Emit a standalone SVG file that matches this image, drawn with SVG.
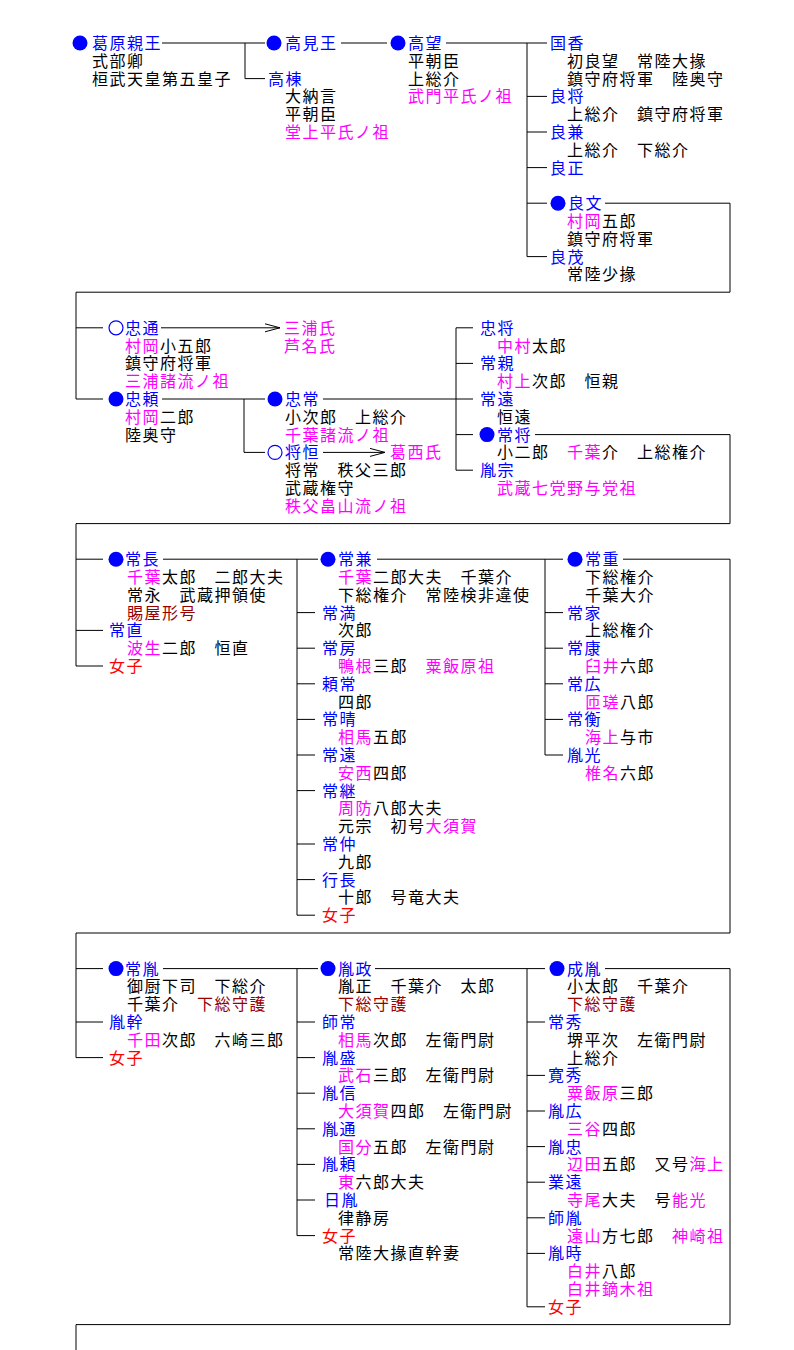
<svg xmlns="http://www.w3.org/2000/svg" width="794" height="1350" viewBox="0 0 794 1350">
<style>
text { font-family: "Liberation Sans", "Noto Sans CJK JP", "Noto Sans CJK SC", sans-serif; font-size: 16px; letter-spacing: 1.5px; fill: #000000; }
.n { fill: #0000ff; }
.m { fill: #ff00ff; }
.r { fill: #ff0000; }
.d { fill: #990000; }
.c { stroke: #000000; stroke-width: 1; fill: none; }
.dot { fill: #0000ff; }
.ring { fill: none; stroke: #0000ff; stroke-width: 1.2; }
</style>
<defs>
<marker id="arr" markerUnits="userSpaceOnUse" markerWidth="16" markerHeight="10" viewBox="0 0 16 10" refX="15" refY="5" orient="auto">
<path d="M0,1 L15,5 L0,9" fill="none" stroke="#000000" stroke-width="1"/>
</marker>
</defs>
<rect width="794" height="1350" fill="#ffffff"/>

<g id="connectors">
<path class="c" d="M162,43 H265 M245,43 V78.6 H265 M341,43 H387 M446,43 H547 M527,43 V256.6 M527,96.4 H547 M527,132 H547 M527,167.6 H547 M527,203.2 H547 M527,256.6 H547"/>
<path class="c" d="M605,203.2 H730 V292.2 H76 V399 M76,327.8 H103 M76,399 H103"/>
<path class="c" d="M161,327.8 H280" marker-end="url(#arr)"/>
<path class="c" d="M162,399 H265 M244,399 V452.4 H265 M323,399 H456"/>
<path class="c" d="M323,452.4 H385" marker-end="url(#arr)"/>
<path class="c" d="M456,327.8 V470.2 M456,327.8 H473 M456,363.4 H473 M456,399 H473 M456,434.6 H473 M456,470.2 H473"/>
<path class="c" d="M535,434.6 H730 V523.6 H76 V666 M76,559.2 H103 M76,630.4 H103 M76,666 H103"/>
<path class="c" d="M163,559.2 H318 M297,559.2 V915.2 M297,612.6 H315 M297,648.2 H315 M297,683.8 H315 M297,719.4 H315 M297,755 H315 M297,790.6 H315 M297,844 H315 M297,879.6 H315 M297,915.2 H315"/>
<path class="c" d="M377,559.2 H563 M545,559.2 V755 M545,612.6 H563 M545,648.2 H563 M545,683.8 H563 M545,719.4 H563 M545,755 H563"/>
<path class="c" d="M623,559.2 H730 V933 H76 V1057.6 M76,968.6 H103 M76,1022 H103 M76,1057.6 H103"/>
<path class="c" d="M163,968.6 H318 M297,968.6 V1235.6 M297,1022 H315 M297,1057.6 H315 M297,1093.2 H315 M297,1128.8 H315 M297,1164.4 H315 M297,1200 H315 M297,1235.6 H315"/>
<path class="c" d="M375,968.6 H545 M527,968.6 V1306.8 M527,1022 H545 M527,1075.4 H545 M527,1111 H545 M527,1146.6 H545 M527,1182.2 H545 M527,1217.8 H545 M527,1253.4 H545 M527,1306.8 H545"/>
<path class="c" d="M605,968.6 H730 V1324.6 H76 V1350"/>
</g>

<!-- Section 1 -->
<g id="kazurahara">
<circle class="dot" cx="80" cy="43" r="7.5"/>
<text class="n" x="92" y="49">葛原親王</text>
<text x="92" y="66.8">式部卿</text>
<text x="92" y="84.6">桓武天皇第五皇子</text>
</g>
<g id="takami">
<circle class="dot" cx="274" cy="43" r="7.5"/>
<text class="n" x="285" y="49">高見王</text>
</g>
<g id="takamune">
<text class="n" x="268" y="84.6">高棟</text>
<text x="285" y="102.4">大納言</text>
<text x="285" y="120.2">平朝臣</text>
<text class="m" x="285" y="138">堂上平氏ノ祖</text>
</g>
<g id="takamochi">
<circle class="dot" cx="398" cy="43" r="7.5"/>
<text class="n" x="408" y="49">高望</text>
<text x="408" y="66.8">平朝臣</text>
<text x="408" y="84.6">上総介</text>
<text class="m" x="408" y="102.4">武門平氏ノ祖</text>
</g>
<g id="kunika">
<text class="n" x="550" y="49">国香</text>
<text x="567" y="66.8">初良望　常陸大掾</text>
<text x="567" y="84.6">鎮守府将軍　陸奥守</text>
</g>
<g id="yoshimasa">
<text class="n" x="550" y="102.4">良将</text>
<text x="567" y="120.2">上総介　鎮守府将軍</text>
</g>
<g id="yoshikane">
<text class="n" x="550" y="138">良兼</text>
<text x="567" y="155.8">上総介　下総介</text>
</g>
<g id="yoshimasa2">
<text class="n" x="550" y="173.6">良正</text>
</g>
<g id="yoshifumi">
<circle class="dot" cx="558" cy="203.2" r="7.5"/>
<text class="n" x="568" y="209.2">良文</text>
<text class="m" x="567" y="227">村岡</text><text x="602" y="227">五郎</text>
<text x="567" y="244.8">鎮守府将軍</text>
</g>
<g id="yoshishige">
<text class="n" x="550" y="262.6">良茂</text>
<text x="567" y="280.4">常陸少掾</text>
</g>

<!-- Section 2 -->
<g id="tadamichi">
<circle class="ring" cx="116" cy="327.8" r="7"/>
<text class="n" x="125" y="333.8">忠通</text>
<text class="m" x="125" y="351.6">村岡</text><text x="160" y="351.6">小五郎</text>
<text x="125" y="369.4">鎮守府将軍</text>
<text class="m" x="125" y="387.2">三浦諸流ノ祖</text>
</g>
<g id="miura">
<text class="m" x="284" y="333.8">三浦氏</text>
<text class="m" x="284" y="351.6">芦名氏</text>
</g>
<g id="tadayori">
<circle class="dot" cx="116" cy="399" r="7.5"/>
<text class="n" x="125" y="405">忠頼</text>
<text class="m" x="125" y="422.8">村岡</text><text x="160" y="422.8">二郎</text>
<text x="125" y="440.6">陸奥守</text>
</g>
<g id="tadatsune">
<circle class="dot" cx="275" cy="399" r="7.5"/>
<text class="n" x="285" y="405">忠常</text>
<text x="285" y="422.8">小次郎　上総介</text>
<text class="m" x="285" y="440.6">千葉諸流ノ祖</text>
</g>
<g id="masatsune">
<circle class="ring" cx="275" cy="452.4" r="7"/>
<text class="n" x="285" y="458.4">将恒</text>
<text x="285" y="476.2">将常　秩父三郎</text>
<text x="285" y="494">武蔵権守</text>
<text class="m" x="285" y="511.8">秩父畠山流ノ祖</text>
</g>
<g id="kasai">
<text class="m" x="390" y="458.4">葛西氏</text>
</g>
<g id="tadamasa">
<text class="n" x="480" y="333.8">忠将</text>
<text class="m" x="497" y="351.6">中村</text><text x="532" y="351.6">太郎</text>
</g>
<g id="tsunechika">
<text class="n" x="480" y="369.4">常親</text>
<text class="m" x="497" y="387.2">村上</text><text x="532" y="387.2">次郎　恒親</text>
</g>
<g id="tsunetoo">
<text class="n" x="480" y="405">常遠</text>
<text x="497" y="422.8">恒遠</text>
</g>
<g id="tsunemasa">
<circle class="dot" cx="487" cy="434.6" r="7.5"/>
<text class="n" x="497" y="440.6">常将</text>
<text x="497" y="458.4">小二郎</text><text class="m" x="567" y="458.4">千葉</text><text x="602" y="458.4">介　上総権介</text>
</g>
<g id="tanemune">
<text class="n" x="480" y="476.2">胤宗</text>
<text class="m" x="497" y="494">武蔵七党野与党祖</text>
</g>

<!-- Section 3 -->
<g id="tsunenaga">
<circle class="dot" cx="116" cy="559.2" r="7.5"/>
<text class="n" x="125" y="565.2">常長</text>
<text class="m" x="127" y="583">千葉</text><text x="162" y="583">太郎　二郎大夫</text>
<text x="127" y="600.8">常永　武蔵押領使</text>
<text class="d" x="127" y="618.6">賜屋形号</text>
</g>
<g id="tsunenao">
<text class="n" x="109" y="636.4">常直</text>
<text class="m" x="127" y="654.2">波生</text><text x="162" y="654.2">二郎　恒直</text>
</g>
<g id="joshi1">
<text class="r" x="109" y="672">女子</text>
</g>
<g id="tsunekane">
<circle class="dot" cx="328" cy="559.2" r="7.5"/>
<text class="n" x="338" y="565.2">常兼</text>
<text class="m" x="338" y="583">千葉</text><text x="373" y="583">二郎大夫　千葉介</text>
<text x="338" y="600.8">下総権介　常陸検非違使</text>
</g>
<g id="tsunemitsu">
<text class="n" x="322" y="618.6">常満</text>
<text x="338" y="636.4">次郎</text>
</g>
<g id="tsunefusa">
<text class="n" x="322" y="654.2">常房</text>
<text class="m" x="338" y="672">鴨根</text><text x="373" y="672">三郎</text><text class="m" x="425.5" y="672">粟飯原祖</text>
</g>
<g id="yoritsune">
<text class="n" x="322" y="689.8">頼常</text>
<text x="338" y="707.6">四郎</text>
</g>
<g id="tsuneharu">
<text class="n" x="322" y="725.4">常晴</text>
<text class="m" x="338" y="743.2">相馬</text><text x="373" y="743.2">五郎</text>
</g>
<g id="tsunetoo2">
<text class="n" x="322" y="761">常遠</text>
<text class="m" x="338" y="778.8">安西</text><text x="373" y="778.8">四郎</text>
</g>
<g id="tsunetsugu">
<text class="n" x="322" y="796.6">常継</text>
<text class="m" x="338" y="814.4">周防</text><text x="373" y="814.4">八郎大夫</text>
<text x="338" y="832.2">元宗　初号</text><text class="m" x="425.5" y="832.2">大須賀</text>
</g>
<g id="tsunenaka">
<text class="n" x="322" y="850">常仲</text>
<text x="338" y="867.8">九郎</text>
</g>
<g id="yukinaga">
<text class="n" x="322" y="885.6">行長</text>
<text x="338" y="903.4">十郎　号竜大夫</text>
</g>
<g id="joshi2">
<text class="r" x="322" y="921.2">女子</text>
</g>
<g id="tsuneshige">
<circle class="dot" cx="575" cy="559.2" r="7.5"/>
<text class="n" x="585" y="565.2">常重</text>
<text x="585" y="583">下総権介</text>
<text x="585" y="600.8">千葉大介</text>
</g>
<g id="tsuneie">
<text class="n" x="567" y="618.6">常家</text>
<text x="585" y="636.4">上総権介</text>
</g>
<g id="tsuneyasu">
<text class="n" x="567" y="654.2">常康</text>
<text class="m" x="585" y="672">臼井</text><text x="620" y="672">六郎</text>
</g>
<g id="tsunehiro">
<text class="n" x="567" y="689.8">常広</text>
<text class="m" x="585" y="707.6">匝瑳</text><text x="620" y="707.6">八郎</text>
</g>
<g id="tsunehira">
<text class="n" x="567" y="725.4">常衡</text>
<text class="m" x="585" y="743.2">海上</text><text x="620" y="743.2">与市</text>
</g>
<g id="tanemitsu">
<text class="n" x="567" y="761">胤光</text>
<text class="m" x="585" y="778.8">椎名</text><text x="620" y="778.8">六郎</text>
</g>

<!-- Section 4 -->
<g id="tsunetane">
<circle class="dot" cx="116" cy="968.6" r="7.5"/>
<text class="n" x="125" y="974.6">常胤</text>
<text x="127" y="992.4">御厨下司　下総介</text>
<text x="127" y="1010.2">千葉介</text><text class="d" x="197" y="1010.2">下総守護</text>
</g>
<g id="tanemoto">
<text class="n" x="109" y="1028">胤幹</text>
<text class="m" x="127" y="1045.8">千田</text><text x="162" y="1045.8">次郎　六崎三郎</text>
</g>
<g id="joshi3">
<text class="r" x="109" y="1063.6">女子</text>
</g>
<g id="tanemasa">
<circle class="dot" cx="328" cy="968.6" r="7.5"/>
<text class="n" x="338" y="974.6">胤政</text>
<text x="338" y="992.4">胤正　千葉介　太郎</text>
<text class="d" x="338" y="1010.2">下総守護</text>
</g>
<g id="morotsune">
<text class="n" x="322" y="1028">師常</text>
<text class="m" x="338" y="1045.8">相馬</text><text x="373" y="1045.8">次郎　左衛門尉</text>
</g>
<g id="tanemori">
<text class="n" x="322" y="1063.6">胤盛</text>
<text class="m" x="338" y="1081.4">武石</text><text x="373" y="1081.4">三郎　左衛門尉</text>
</g>
<g id="tanenobu">
<text class="n" x="322" y="1099.2">胤信</text>
<text class="m" x="338" y="1117">大須賀</text><text x="390.5" y="1117">四郎　左衛門尉</text>
</g>
<g id="tanemichi">
<text class="n" x="322" y="1134.8">胤通</text>
<text class="m" x="338" y="1152.6">国分</text><text x="373" y="1152.6">五郎　左衛門尉</text>
</g>
<g id="taneyori">
<text class="n" x="322" y="1170.4">胤頼</text>
<text class="m" x="338" y="1188.2">東</text><text x="355.5" y="1188.2">六郎大夫</text>
</g>
<g id="nichiin">
<text class="n" x="324" y="1206">日胤</text>
<text x="338" y="1223.8">律静房</text>
</g>
<g id="joshi4">
<text class="r" x="322" y="1241.6">女子</text>
<text x="338" y="1259.4">常陸大掾直幹妻</text>
</g>
<g id="naritane">
<circle class="dot" cx="557" cy="968.6" r="7.5"/>
<text class="n" x="567" y="974.6">成胤</text>
<text x="567" y="992.4">小太郎　千葉介</text>
<text class="d" x="567" y="1010.2">下総守護</text>
</g>
<g id="tsunehide">
<text class="n" x="548" y="1028">常秀</text>
<text x="567" y="1045.8">堺平次　左衛門尉</text>
<text x="567" y="1063.6">上総介</text>
</g>
<g id="kanshu">
<text class="n" x="548" y="1081.4">寛秀</text>
<text class="m" x="567" y="1099.2">粟飯原</text><text x="619.5" y="1099.2">三郎</text>
</g>
<g id="tanehiro">
<text class="n" x="548" y="1117">胤広</text>
<text class="m" x="567" y="1134.8">三谷</text><text x="602" y="1134.8">四郎</text>
</g>
<g id="tanetada">
<text class="n" x="548" y="1152.6">胤忠</text>
<text class="m" x="567" y="1170.4">辺田</text><text x="602" y="1170.4">五郎　又号</text><text class="m" x="689.5" y="1170.4">海上</text>
</g>
<g id="narito">
<text class="n" x="548" y="1188.2">業遠</text>
<text class="m" x="567" y="1206">寺尾</text><text x="602" y="1206">大夫　号</text><text class="m" x="672" y="1206">能光</text>
</g>
<g id="morotane">
<text class="n" x="548" y="1223.8">師胤</text>
<text class="m" x="567" y="1241.6">遠山</text><text x="602" y="1241.6">方七郎</text><text class="m" x="672" y="1241.6">神崎祖</text>
</g>
<g id="tanetoki">
<text class="n" x="548" y="1259.4">胤時</text>
<text class="m" x="567" y="1277.2">白井</text><text x="602" y="1277.2">八郎</text>
<text class="m" x="567" y="1295">白井鏑木祖</text>
</g>
<g id="joshi5">
<text class="r" x="548" y="1312.8">女子</text>
</g>
</svg>
